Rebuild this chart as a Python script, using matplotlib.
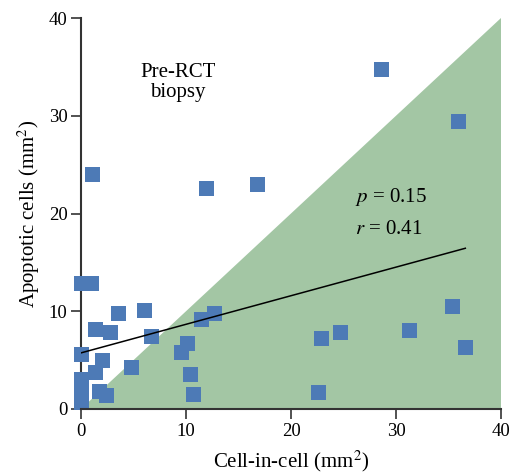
import numpy as np
import matplotlib
matplotlib.use("Agg")
import matplotlib.pyplot as plt

# cell-in-cell area vs apoptotic cell area, pre-RCT biopsy
cic = [0, 0.95, 3.5, 5.95, 1.35, 2.7, 6.6, 11.45, 12.6, 10.1, 9.5,
       0, 1.95, 1.35, 4.75, 10.4, 10.6, 1.7, 2.4, 0, 0, 0,
       22.8, 24.7, 31.2, 35.3, 36.6, 22.6, 28.6, 35.9, 1.05, 11.9, 16.7]
apop = [12.9, 12.9, 9.8, 10.1, 8.15, 7.85, 7.45, 9.2, 9.8, 6.8, 5.8,
        5.6, 5.0, 3.75, 4.25, 3.55, 1.5, 1.8, 1.4, 3.1, 1.8, 0.75,
        7.3, 7.85, 8.05, 10.5, 6.3, 1.7, 34.8, 29.5, 24.1, 22.6, 23.0]

# regression line endpoints
fit_x = [0, 36.6]
fit_y = [5.75, 16.45]

# shaded region below the identity line
tri_x = [0, 40, 40]
tri_y = [0, 0, 40]

ticks = [0, 10, 20, 30, 40]

plt.rcParams['font.family'] = ['Liberation Serif', 'DejaVu Serif']
plt.rcParams['mathtext.fontset'] = 'stix'

fig = plt.figure(figsize=(5.12, 4.76), dpi=100)
ax = fig.add_axes([0.1588, 0.1408, 0.8197, 0.821])

ax.fill(tri_x, tri_y, color='#a3c6a4', lw=0, zorder=1)
ax.plot(cic, apop, 's', color='#4d7ab6', markersize=10.8, markeredgewidth=0,
        clip_on=False, zorder=3)
ax.plot(fit_x, fit_y, color='black', lw=1.1, zorder=4)

ax.set_xlim(0, 40)
ax.set_ylim(0, 40)
ax.set_xticks(ticks)
ax.set_yticks(ticks)
ax.tick_params(direction='out', length=7, width=1.2, color='#333333',
               labelsize=13.5, pad=3)

for s in ['top', 'right']:
    ax.spines[s].set_visible(False)
for s in ['left', 'bottom']:
    ax.spines[s].set_linewidth(1.5)
    ax.spines[s].set_color('#333333')
ax.spines['bottom'].set_zorder(5)

ax.set_xlabel('Cell-in-cell (mm$^2$)', fontsize=15, labelpad=6)
ax.set_ylabel('Apoptotic cells (mm$^2$)', fontsize=15, labelpad=5)

ax.text(9.2, 33.4, 'Pre-RCT\nbiopsy', fontsize=15, ha='center', va='center',
        linespacing=1.05)
ax.text(26.1, 21.7, '$p$ = 0.15', fontsize=15, ha='left', va='center')
ax.text(26.1, 18.4, '$r$ = 0.41', fontsize=15, ha='left', va='center')

fig.savefig('out.png', dpi=100)
